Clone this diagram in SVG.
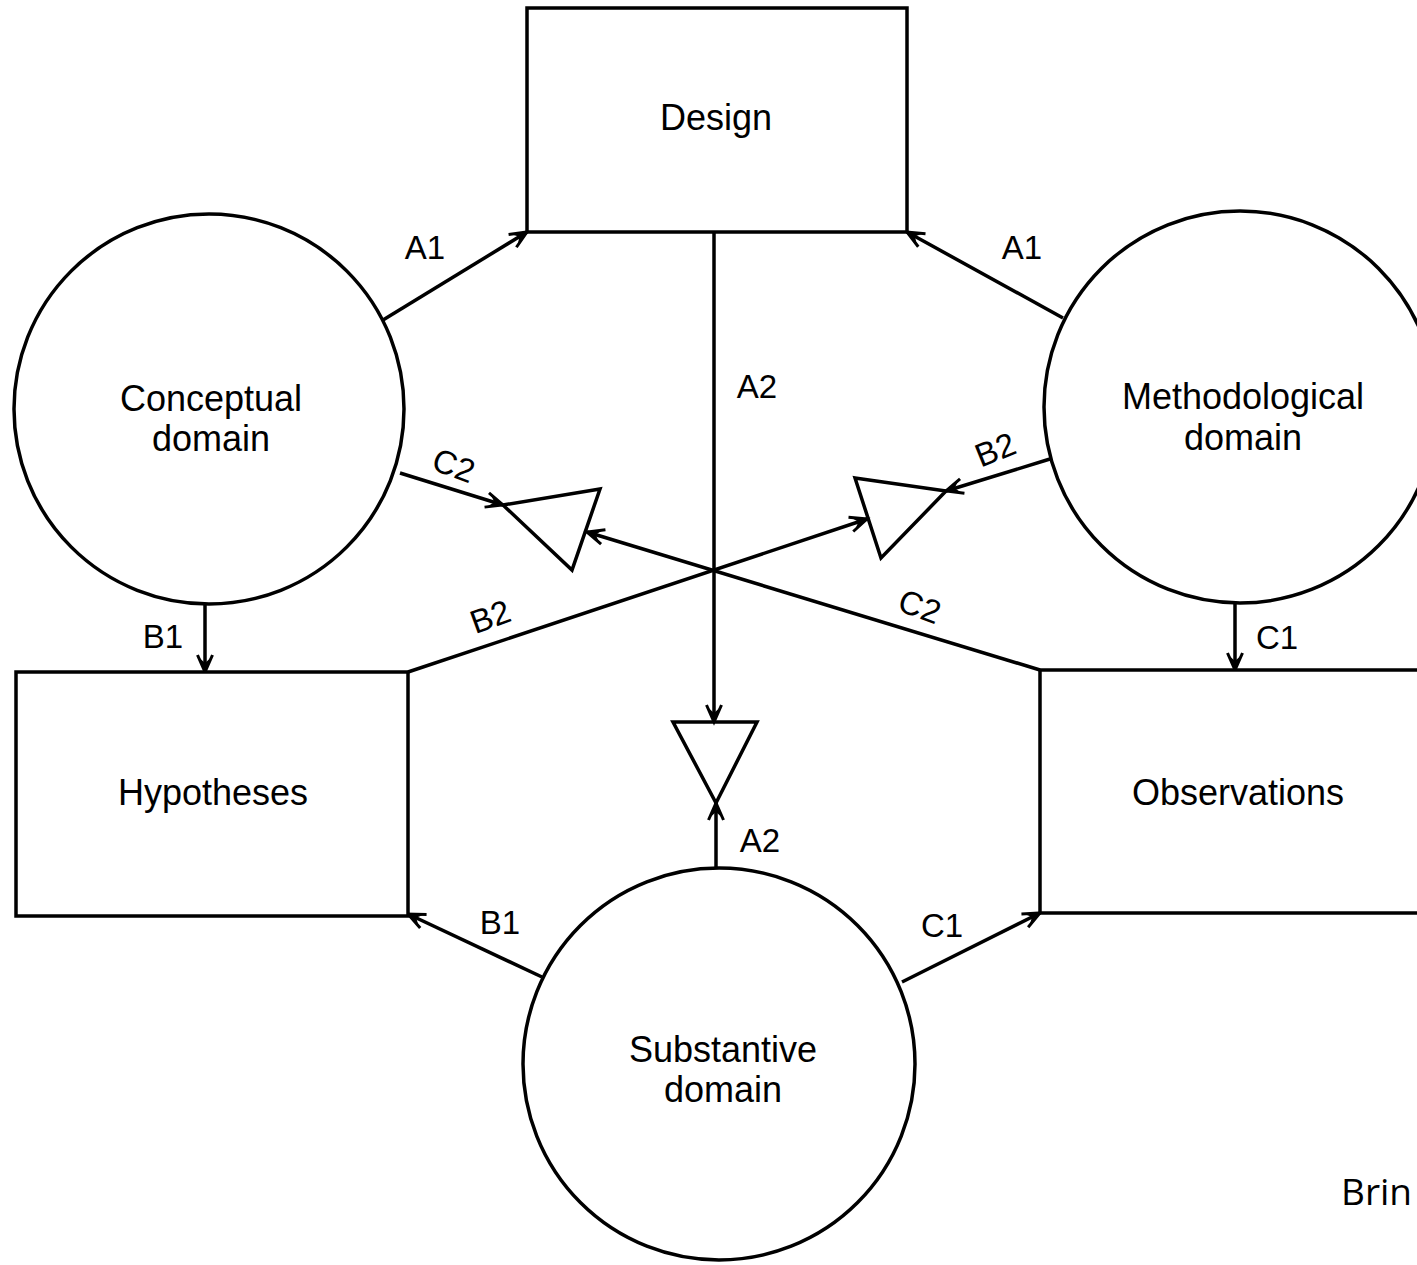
<svg xmlns="http://www.w3.org/2000/svg" width="1417" height="1265" viewBox="0 0 1417 1265">
  <style>
    .shape { fill: #fff; stroke: #000; stroke-width: 3.5; }
    .tri { fill: none; stroke: #000; stroke-width: 3.5; stroke-linejoin: miter; }
    .edge { fill: none; stroke: #000; stroke-width: 3.5; marker-end: url(#arrow); }
    .name { font-family: "Liberation Sans", Arial, sans-serif; font-size: 36px; fill: #000; text-anchor: middle; }
    .lbl { font-family: "Liberation Sans", Arial, sans-serif; font-size: 33px; fill: #000; text-anchor: middle; }
    .note { font-family: "Open Sans", "Liberation Sans", sans-serif; font-size: 37px; fill: #000; }
  </style>
  <defs>
    <marker id="arrow" markerUnits="userSpaceOnUse" orient="auto" overflow="visible"
            markerWidth="24" markerHeight="24" viewBox="-20 -12 24 24" refX="0" refY="0">
      <path d="M-17,-7.5 L0,0 L-17,7.5" fill="none" stroke="#000" stroke-width="3"/>
      <path d="M0,0 L-14,-5.5 L-9,0 L-14,5.5 Z" fill="#000"/>
    </marker>
  </defs>

  <rect width="1417" height="1265" fill="#fff"/>

  <!-- connectors -->
  <g id="connectors">
    <path class="edge" d="M383,320 L527,232"/>
    <path class="edge" d="M1063,318 L907,232"/>
    <path class="edge" d="M714,232 L714,722"/>
    <path class="edge" d="M716,870 L716,803"/>
    <path class="edge" d="M205,603 L205,672"/>
    <path class="edge" d="M542,977 L408,914"/>
    <path class="edge" d="M902,982 L1040,913"/>
    <path class="edge" d="M1235,602 L1235,670"/>
    <path class="edge" d="M400,473 L503,505"/>
    <path class="edge" d="M1040,670 L587,532"/>
    <path class="edge" d="M1050,459 L946,491"/>
    <path class="edge" d="M408,672 L867,519"/>

    <text class="lbl" x="425" y="259">A1</text>
    <text class="lbl" x="1022" y="259">A1</text>
    <text class="lbl" x="757" y="398">A2</text>
    <text class="lbl" x="760" y="852">A2</text>
    <text class="lbl" x="163" y="648">B1</text>
    <text class="lbl" x="500" y="934">B1</text>
    <text class="lbl" x="942" y="937">C1</text>
    <text class="lbl" x="1277" y="649">C1</text>
    <text class="lbl" transform="translate(454,465) rotate(20)" y="12">C2</text>
    <text class="lbl" transform="translate(995,449) rotate(-22)" y="12">B2</text>
    <text class="lbl" transform="translate(490,616) rotate(-20)" y="12">B2</text>
    <text class="lbl" transform="translate(920,606) rotate(20)" y="12">C2</text>
  </g>

  <!-- nodes -->
  <g id="design">
    <rect class="shape" x="527" y="8" width="380" height="224"/>
    <text class="name" x="716" y="130">Design</text>
  </g>

  <g id="conceptual-domain">
    <circle class="shape" cx="209" cy="409" r="195"/>
    <text class="name" x="211" y="411">Conceptual</text>
    <text class="name" x="211" y="451">domain</text>
  </g>

  <g id="methodological-domain">
    <circle class="shape" cx="1240" cy="407" r="196"/>
    <text class="name" x="1243" y="409">Methodological</text>
    <text class="name" x="1243" y="450">domain</text>
  </g>

  <g id="hypotheses">
    <rect class="shape" x="16" y="672" width="392" height="244"/>
    <text class="name" x="213" y="805">Hypotheses</text>
  </g>

  <g id="observations">
    <rect class="shape" x="1040" y="670" width="400" height="243"/>
    <text class="name" x="1238" y="805">Observations</text>
  </g>

  <g id="substantive-domain">
    <circle class="shape" cx="719" cy="1064" r="196"/>
    <text class="name" x="723" y="1062">Substantive</text>
    <text class="name" x="723" y="1102">domain</text>
  </g>

  <!-- junction triangles -->
  <g id="junction-a2">
    <path class="tri" d="M673,722 L757,722 L716,803 Z"/>
  </g>
  <g id="junction-c2">
    <path class="tri" d="M503,505 L600,489 L572,570 Z"/>
  </g>
  <g id="junction-b2">
    <path class="tri" d="M855,478 L946,491 L881,558 Z"/>
  </g>

  <text class="note" x="1341" y="1205">Brin</text>
</svg>
